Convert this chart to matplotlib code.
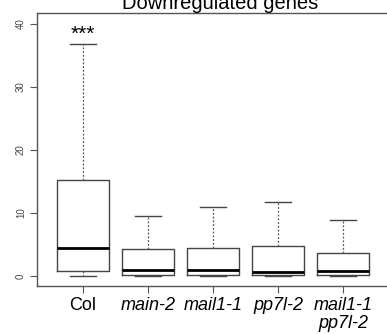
import matplotlib
matplotlib.use('Agg')
import matplotlib.pyplot as plt

plt.rcParams['font.family'] = ['Liberation Sans', 'DejaVu Sans']

# box statistics
groups = ['Col', 'main-2', 'mail1-1', 'pp7l-2', 'mail1-1\npp7l-2']
whislo = [0.0, 0.0, 0.0, 0.0, 0.0]
q1 = [0.84, 0.16, 0.16, 0.16, 0.16]
med = [4.44, 0.9, 0.95, 0.68, 0.84]
q3 = [15.2, 4.34, 4.5, 4.8, 3.65]
whishi = [36.8, 9.57, 10.9, 11.7, 8.84]
yticks = [0, 10, 20, 30, 40]

stats = []
for i in range(len(groups)):
    stats.append({'whislo': whislo[i], 'q1': q1[i], 'med': med[i],
                  'q3': q3[i], 'whishi': whishi[i], 'fliers': []})

fig = plt.figure(figsize=(3.87, 3.34), dpi=100)
ax = fig.add_axes([0.0956, 0.1437, 0.9044, 0.8173])

ax.bxp(stats, positions=range(1, 6), widths=0.8, showfliers=False,
       boxprops=dict(color='#444444', lw=1.0),
       whiskerprops=dict(color='#555555', lw=0.9, ls=(0, (1.5, 1.5))),
       capprops=dict(color='#444444', lw=1.0),
       medianprops=dict(color='black', lw=2.0),
       capwidths=0.4)

ax.set_xlim(0.292, 5.677)
ax.set_ylim(-1.6, 41.7)
ax.spines['right'].set_visible(False)
for s in ['left', 'top', 'bottom']:
    ax.spines[s].set_color('#555555')
    ax.spines[s].set_linewidth(1.0)

ax.set_yticks(yticks)
ax.set_yticklabels([str(t) for t in yticks], rotation=90, va='center',
                   fontsize=7, color='#444444')
ax.tick_params(axis='y', length=5, color='#555555', pad=3)

ax.set_xticks(range(1, 6))
ax.set_xticklabels(groups, fontsize=13, linespacing=1.05)
ax.tick_params(axis='x', length=5, color='#555555', pad=3)
for i, lab in enumerate(ax.get_xticklabels()):
    if i > 0:
        lab.set_style('italic')

ax.text(1, 38.3, '***', ha='center', va='center', fontsize=15)

fig.text(0.57, 0.973, 'Downregulated genes', ha='center', va='baseline',
         fontsize=14.5)

fig.savefig('out.png', dpi=100)
